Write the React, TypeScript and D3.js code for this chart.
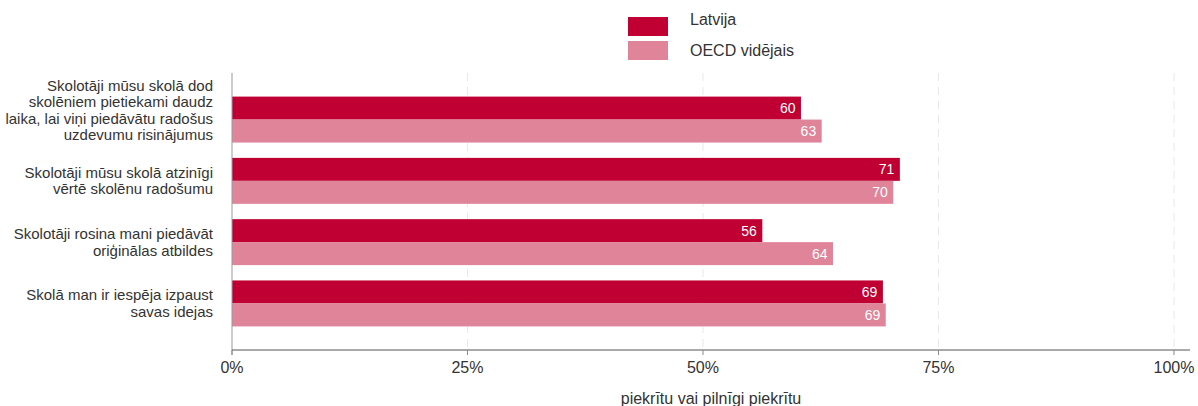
import React from "react";
import * as d3 from "d3";

const categories = [
  ["Skolotāji mūsu skolā dod", "skolēniem pietiekami daudz", "laika, lai viņi piedāvātu radošus", "uzdevumu risinājumus"],
  ["Skolotāji mūsu skolā atzinīgi", "vērtē skolēnu radošumu"],
  ["Skolotāji rosina mani piedāvāt", "oriģinālas atbildes"],
  ["Skolā man ir iespēja izpaust", "savas idejas"],
];
const seriesNames = ["Latvija", "OECD vidējais"];
const latvija = [60.4, 70.9, 56.3, 69.1];
const oecd = [62.6, 70.2, 63.8, 69.4];
const xTicks = [0, 25, 50, 75, 100];
const xTitle = "piekrītu vai pilnīgi piekrītu";
const colors = ["#c00032", "#e0849a"];

const W = 1198;
const H = 406;
const font = "'Liberation Sans', Arial, sans-serif";

export default function App() {
  const x = d3.scaleLinear().domain([0, 101.7]).range([232, 1190]);
  const keys = categories.map((_, i) => String(i));
  const y = d3.scaleBand().domain(keys).range([73, 350]).paddingInner(0.25).paddingOuter(0.385);
  const sub = d3.scaleBand().domain(seriesNames).range([0, y.bandwidth()]);
  const series = [latvija, oecd];
  const [x0, x1] = x.range();
  const [yTop, yBottom] = y.range();
  const lh = 16.6;

  return (
    <svg width={W} height={H} style={{ position: "absolute", left: 0, top: 0, display: "block", background: "#fff" }} fontFamily={font}>
      {xTicks.slice(1).map((t) => (
        <line key={"g" + t} x1={x(t)} x2={x(t)} y1={yTop} y2={yBottom} stroke="#e8e8e8" strokeWidth={1} strokeDasharray="8,6" />
      ))}
      {series.map((vals, si) =>
        vals.map((v, i) => (
          <g key={`b${si}-${i}`}>
            <rect
              x={x(0)}
              y={(y(String(i)) as number) + (sub(seriesNames[si]) as number)}
              width={x(v) - x(0)}
              height={sub.bandwidth()}
              fill={colors[si]}
            />
            <text
              x={x(v) - 5.5}
              y={(y(String(i)) as number) + (sub(seriesNames[si]) as number) + sub.bandwidth() / 2}
              dy="0.36em"
              textAnchor="end"
              fill="#fff"
              fontSize={14}
            >
              {Math.round(v)}
            </text>
          </g>
        ))
      )}
      <line x1={x0} x2={x0} y1={yTop} y2={yBottom + 5} stroke="#999" strokeWidth={1} />
      <line x1={x0} x2={x1} y1={yBottom} y2={yBottom} stroke="#555" strokeWidth={1} />
      {xTicks.map((t) => (
        <g key={"t" + t}>
          <line x1={x(t)} x2={x(t)} y1={yBottom} y2={yBottom + 5} stroke="#888" strokeWidth={1} />
          <text x={x(t)} y={yBottom + 22.5} textAnchor="middle" fontSize={16} fill="#333">
            {t + "%"}
          </text>
        </g>
      ))}
      <text x={(x0 + x1) / 2} y={404} textAnchor="middle" fontSize={16} fill="#333">
        {xTitle}
      </text>
      {categories.map((lines, i) => {
        const c = (y(String(i)) as number) + y.bandwidth() / 2 - Math.max(0, lines.length - 2) * 4.7;
        const start = c - ((lines.length - 1) * lh) / 2;
        return (
          <text key={"c" + i} textAnchor="end" fontSize={15} fill="#333">
            {lines.map((l, j) => (
              <tspan key={j} x={213} y={start + j * lh} dy="0.35em">
                {l}
              </tspan>
            ))}
          </text>
        );
      })}
      {seriesNames.map((n, i) => (
        <g key={"l" + n}>
          <rect x={628} y={17 + i * 24} width={40} height={19} fill={colors[i]} />
          <text x={690} y={25 + i * 31} fontSize={16} fill="#333">
            {n}
          </text>
        </g>
      ))}
    </svg>
  );
}
